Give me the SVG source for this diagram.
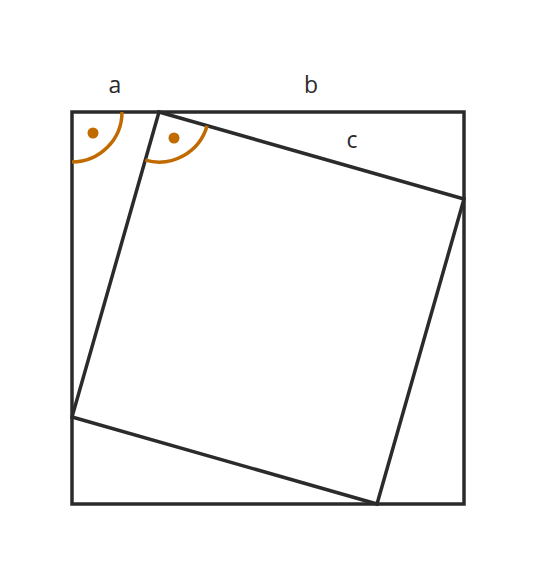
<svg xmlns="http://www.w3.org/2000/svg" width="536" height="576" viewBox="0 0 536 576">
<style>
.ln{fill:none;stroke:#2b2b2b;stroke-width:3.5;stroke-linejoin:miter}
.arc{fill:none;stroke:#c06a00;stroke-width:3.5}
.dot{fill:#c06a00}
.lb{font-family:"Open Sans","DejaVu Sans",sans-serif;font-size:23px;fill:#2b2b2b;text-anchor:middle}
</style>
<rect width="536" height="576" fill="#fff"/>
<g id="connectors">
<rect id="outer" class="ln" x="72" y="112" width="392" height="392"/>
<polygon id="inner" class="ln" points="159,112 464,199 377,504 72,417"/>
</g>
<g id="angle1">
<path class="arc" d="M122,112 A50,50 0 0 1 72,162"/>
<circle class="dot" cx="93" cy="133" r="5.5"/>
</g>
<g id="angle2">
<path class="arc" d="M207.1,125.7 A50,50 0 0 1 145.3,160.1"/>
<circle class="dot" cx="174" cy="138" r="5.5"/>
</g>
<g id="labels">
<text class="lb" x="115" y="93">a</text>
<text class="lb" x="311" y="93">b</text>
<text class="lb" x="352" y="148">c</text>
</g>
</svg>
